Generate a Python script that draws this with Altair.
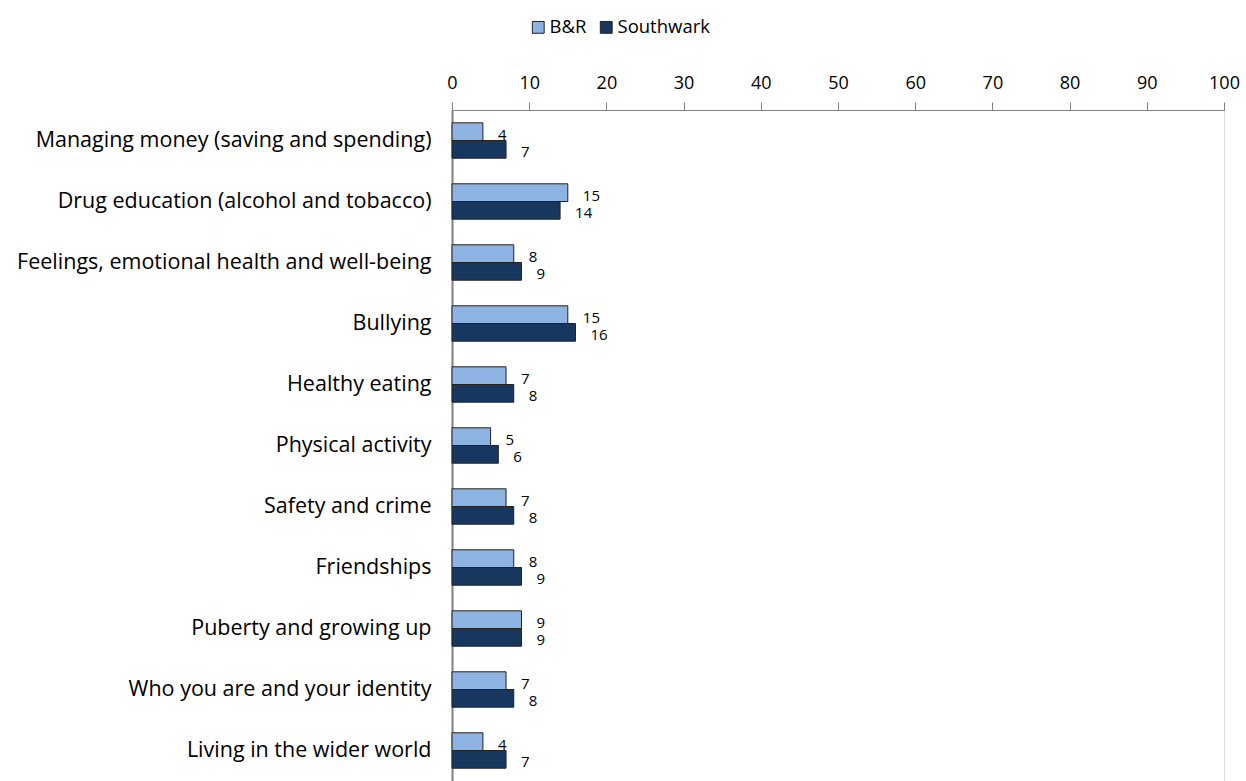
import altair as alt
import pandas as pd

categories = [
    "Managing money (saving and spending)",
    "Drug education (alcohol and tobacco)",
    "Feelings, emotional health and well-being",
    "Bullying",
    "Healthy eating",
    "Physical activity",
    "Safety and crime",
    "Friendships",
    "Puberty and growing up",
    "Who you are and your identity",
    "Living in the wider world",
]
series = ["B&R", "Southwark"]
br_values = [4, 15, 8, 15, 7, 5, 7, 8, 9, 7, 4]
southwark_values = [7, 14, 9, 16, 8, 6, 8, 9, 9, 8, 7]
x_ticks = [0, 10, 20, 30, 40, 50, 60, 70, 80, 90, 100]
colors = ["#8DB3E2", "#17375E"]

rows = []
for c, a, b in zip(categories, br_values, southwark_values):
    rows.append({"topic": c, "area": series[0], "value": a})
    rows.append({"topic": c, "area": series[1], "value": b})
df = pd.DataFrame(rows)

FONT = "Open Sans"

y_enc = alt.Y("topic:N", sort=categories,
              scale=alt.Scale(paddingInner=0.42, paddingOuter=0.21),
              axis=alt.Axis(title=None, ticks=False, labelFontSize=21.5, labelColor="#000000",
                            labelPadding=21, domainColor="#808080", domainWidth=2,
                            labelFont=FONT, labelLimit=600))
yoff = alt.YOffset("area:N", sort=series)

bars = alt.Chart(df).mark_bar(stroke="#222222", strokeWidth=1).encode(
    x=alt.X("value:Q", scale=alt.Scale(domain=[0, 100], nice=False),
            axis=alt.Axis(orient="top", values=x_ticks, grid=False, title=None,
                          tickSize=8, tickColor="#808080", domainColor="#808080",
                          labelFontSize=18, labelPadding=10, labelColor="#000000",
                          labelFlush=False, labelFont=FONT)),
    y=y_enc,
    yOffset=yoff,
    color=alt.Color("area:N", sort=series,
                    scale=alt.Scale(domain=series, range=colors),
                    legend=alt.Legend(title=None, orient="none", direction="horizontal",
                                      legendX=77, legendY=-92, symbolType="square",
                                      symbolSize=140, symbolStrokeColor="#222222",
                                      symbolStrokeWidth=1, labelFontSize=18.5,
                                      labelFont=FONT, columnPadding=10, labelOffset=2,
                                      labelColor="#000000")),
)

labels = alt.Chart(df).mark_text(align="left", baseline="middle", dx=15, dy=3,
                                 fontSize=15, font=FONT, color="#000000").encode(
    x="value:Q",
    y=alt.Y("topic:N", sort=categories),
    yOffset=yoff,
    text="value:Q",
)

chart = alt.layer(bars, labels).properties(
    width=772, height=671,
    padding={"left": 452, "top": 110, "right": 22, "bottom": 0},
    autosize=alt.AutoSizeParams(type="none"),
).configure_view(stroke=None).configure(font=FONT)

chart.save("out.html", embed_options={"renderer": "svg", "actions": False})
